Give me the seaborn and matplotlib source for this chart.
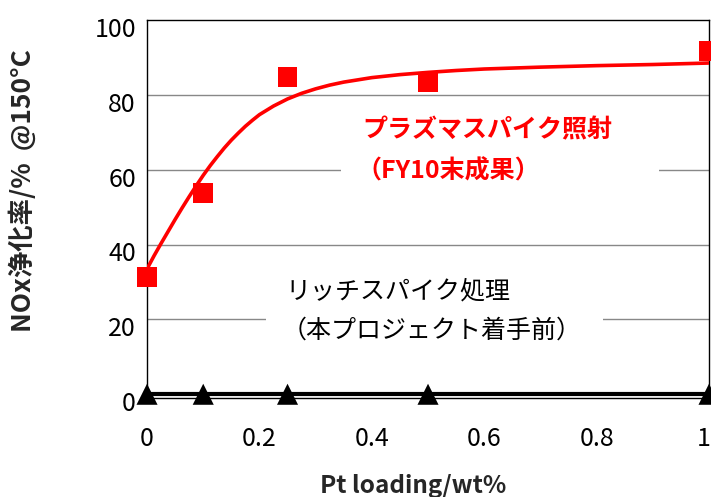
import numpy as np
import pandas as pd
import matplotlib
matplotlib.use("Agg")
import matplotlib.pyplot as plt
import matplotlib.transforms as mtrans
from matplotlib.patches import Rectangle
import seaborn as sns

# ---- data ----
pt_loading = [0.0, 0.1, 0.25, 0.5, 1.0]
plasma_nox = [31.3, 53.7, 84.8, 83.4, 91.7]
rich_nox = [0.0, 0.0, 0.0, 0.0, 0.0]
fit_x = [0, 0.0125, 0.025, 0.0375, 0.05, 0.0625, 0.075, 0.0875, 0.1, 0.1125,
         0.125, 0.1375, 0.15, 0.1625, 0.175, 0.1875, 0.2, 0.225, 0.25, 0.275,
         0.3, 0.325, 0.35, 0.375, 0.4, 0.45, 0.5, 0.55, 0.6, 0.7, 0.8, 0.9, 1.0]
fit_y = [33.5, 37.0, 40.3, 43.5, 46.7, 49.8, 52.8, 55.7, 58.5, 61.1,
         63.5, 65.8, 67.9, 69.8, 71.6, 73.2, 74.7, 77.0, 78.9, 80.4,
         81.6, 82.6, 83.4, 84.0, 84.6, 85.4, 86.0, 86.5, 86.9, 87.4, 87.8, 88.1, 88.5]
xticks = [0, 0.2, 0.4, 0.6, 0.8, 1.0]
xtick_labels = ["0", "0.2", "0.4", "0.6", "0.8", "1"]
yticks = [0, 20, 40, 60, 80, 100]
xlabel = "Pt loading/wt%"
ylabel = "NOx浄化率/%  @150°C"
plasma_label = ["プラズマスパイク照射", "（FY10末成果）"]
rich_label = ["リッチスパイク処理", "（本プロジェクト着手前）"]

sns.set_style("white")
plt.rcParams['font.family'] = ['Noto Sans CJK JP', 'DejaVu Sans']

fig = plt.figure(figsize=(7.11, 4.97), dpi=100)
ax = fig.add_axes([0.2068, 0.1992, 0.7904, 0.7606])

df_fit = pd.DataFrame({"x": fit_x, "y": fit_y})
df_pl = pd.DataFrame({"x": pt_loading, "y": plasma_nox})
df_rich = pd.DataFrame({"x": pt_loading, "y": rich_nox})

ax.set_xlim(0, 1)
ax.set_ylim(-1, 100)

for v in [20, 40, 60, 80]:
    ax.axhline(v, color="#888888", lw=1.0, zorder=1)

# white text boxes (blocking gridlines)
ax.add_patch(Rectangle((0.345, 54), 0.566, 22, facecolor="white",
                       edgecolor="none", zorder=2))
ax.add_patch(Rectangle((0.212, 11), 0.599, 23, facecolor="white",
                       edgecolor="none", zorder=2))

sns.lineplot(data=df_fit, x="x", y="y", ax=ax, color="#ff0000", lw=2.6,
             zorder=4, estimator=None, sort=False)
sns.lineplot(data=df_rich, x="x", y="y", ax=ax, color="black", lw=3.0,
             zorder=4, estimator=None)
sns.scatterplot(data=df_pl, x="x", y="y", ax=ax, marker="s", s=200,
                color="#ff0000", edgecolor="none", zorder=5, clip_on=False)
sns.scatterplot(data=df_rich, x="x", y="y", ax=ax, marker="^", s=230,
                color="black", edgecolor="none", zorder=5, clip_on=False)

ax.text(0.383, 70.5, plasma_label[0], color="#ff0000", fontsize=18,
        fontweight="bold", va="center", ha="left", zorder=6)
ax.text(0.372, 59.5, plasma_label[1], color="#ff0000", fontsize=18,
        fontweight="bold", va="center", ha="left", zorder=6)
ax.text(0.2456, 27.5, rich_label[0], color="black", fontsize=18,
        va="center", ha="left", zorder=6)
ax.text(0.24, 17, rich_label[1], color="black", fontsize=18,
        va="center", ha="left", zorder=6)

ax.set_xticks(xticks)
ax.set_xticklabels(xtick_labels)
ax.set_yticks(yticks)
ax.tick_params(axis="x", direction="in", length=6, width=1, pad=20,
               labelsize=18, colors="black")
ax.tick_params(axis="y", direction="in", length=9, width=1, pad=8,
               labelsize=18, colors="black")
for lab in ax.get_yticklabels():
    lab.set_transform(lab.get_transform() +
                      mtrans.ScaledTranslation(0, -5 / 72, fig.dpi_scale_trans))
last = ax.get_xticklabels()[-1]
last.set_transform(last.get_transform() +
                   mtrans.ScaledTranslation(-4 / 72, 0, fig.dpi_scale_trans))

for sp in ax.spines.values():
    sp.set_color("black")
    sp.set_linewidth(1.0)

ax.set_xlabel(xlabel, fontsize=17.5, fontweight="bold")
ax.set_ylabel(ylabel, fontsize=19, fontweight="bold")
ax.xaxis.set_label_coords(0.473, -0.20)
ax.yaxis.set_label_coords(-0.196, 0.55)

fig.savefig("out.png", dpi=100)
